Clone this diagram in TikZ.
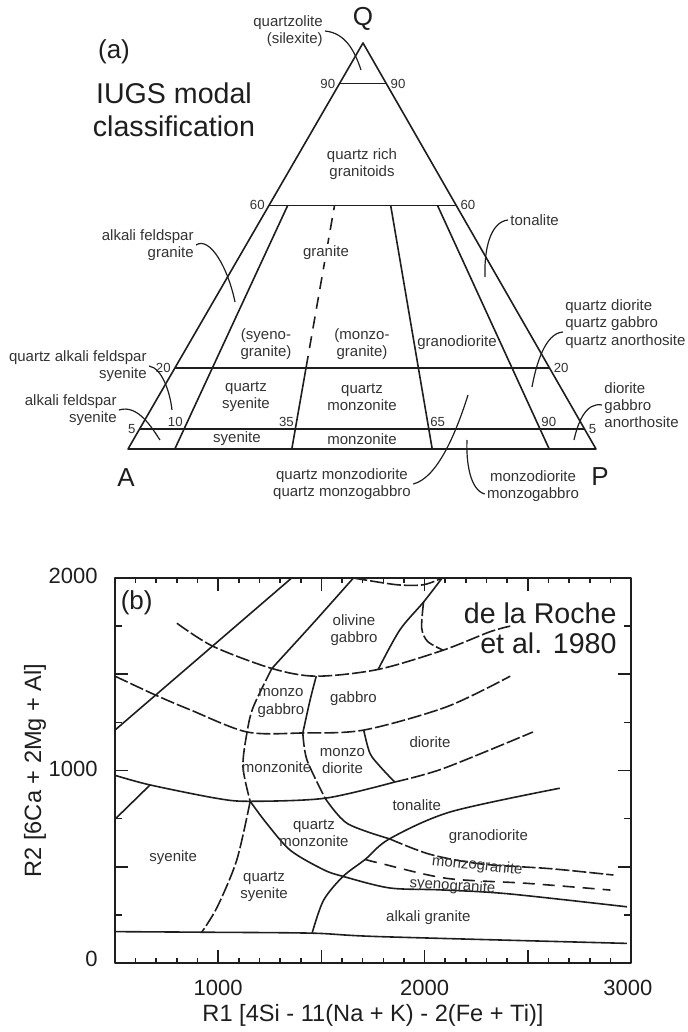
\documentclass[tikz,border=0pt]{standalone}
\usepackage{fontspec}
\setmainfont{Liberation Sans}
\usepackage{tikz}
\usepackage{xcolor}
\usetikzlibrary{positioning,calc}
\definecolor{RockInk}{HTML}{1E1E1E}
\definecolor{RockText}{HTML}{333333}
\tikzset{
    % Field boundary line
    fieldline/.style={
        draw=RockInk,
        line width=0.8pt,
        line join=round
    },
    % Dashed granite boundary in the triangle
    tridash/.style={
        fieldline,
        dash pattern=on 6pt off 4pt
    },
    % Long dashed boundary in the R1-R2 plot
    longdash/.style={
        fieldline,
        dash pattern=on 7pt off 1.5pt
    },
    % Monzogranite boundary
    mzdash/.style={
        fieldline,
        dash pattern=on 6pt off 4pt
    },
    % Curved leader from a name to its field
    leader/.style={
        draw=RockInk,
        line width=0.6pt
    },
    % Rock name
    fieldlabel/.style={
        text=RockText,
        inner sep=1pt,
        align=center,
        font=\fontsize{7.5}{8.6}\selectfont
    },
    % Percent value on the triangle
    pctlabel/.style={
        text=RockText,
        inner sep=2pt,
        font=\fontsize{6.6}{7.5}\selectfont
    },
    % Corner letters and panel tags
    cornerlabel/.style={
        text=RockInk,
        inner sep=0pt,
        font=\fontsize{13}{15}\selectfont
    },
    % Big titles
    titlelabel/.style={
        text=RockInk,
        inner sep=0pt,
        font=\fontsize{14.3}{16.5}\selectfont
    },
    % Axis numbers
    axisnum/.style={
        text=RockInk,
        inner sep=0pt,
        font=\fontsize{11}{13}\selectfont
    },
    % Axis titles
    axislabel/.style={
        text=RockInk,
        inner sep=0pt,
        font=\fontsize{11.8}{14}\selectfont
    }
}

\begin{document}
\begin{tikzpicture}[x=0.5pt, y=-0.5pt]
    \useasboundingbox (0,0) rectangle (688,1032);

    % (a) IUGS triangle
    \coordinate (Q) at (363,43);
    \coordinate (A) at (128,449);
    \coordinate (P) at (596,449);
    \draw[fieldline] (A) -- (Q) -- (P) -- cycle;

    % Q levels
    \coordinate (q90L) at ($(A)!0.90!(Q)$);
    \coordinate (q90R) at ($(P)!0.90!(Q)$);
    \coordinate (q60L) at ($(A)!0.60!(Q)$);
    \coordinate (q60R) at ($(P)!0.60!(Q)$);
    \coordinate (q20L) at ($(A)!0.20!(Q)$);
    \coordinate (q20R) at ($(P)!0.20!(Q)$);
    \coordinate (q05L) at ($(A)!0.05!(Q)$);
    \coordinate (q05R) at ($(P)!0.05!(Q)$);
    \draw[fieldline] (q90L) -- (q90R);
    \draw[fieldline] (q60L) -- (q60R);
    \draw[fieldline] (q20L) -- (q20R);
    \draw[fieldline] (q05L) -- (q05R);

    % P/(A+P) dividers
    \coordinate (p10) at ($(A)!0.10!(P)$);
    \coordinate (p35) at ($(A)!0.35!(P)$);
    \coordinate (p65) at ($(A)!0.65!(P)$);
    \coordinate (p90) at ($(A)!0.90!(P)$);
    \draw[fieldline] (p10) -- ($(p10)!0.6!(Q)$);
    \draw[fieldline] (p35) -- ($(p35)!0.2!(Q)$);
    \draw[tridash] ($(p35)!0.2!(Q)$) -- ($(p35)!0.6!(Q)$);
    \draw[fieldline] (p65) -- ($(p65)!0.6!(Q)$);
    \draw[fieldline] (p90) -- ($(p90)!0.6!(Q)$);

    % Percent values
    \node[pctlabel, anchor=east] (n90l) at (q90L) {90};
    \node[pctlabel, anchor=west] (n90r) at (q90R) {90};
    \node[pctlabel, anchor=east] (n60l) at (q60L) {60};
    \node[pctlabel, anchor=west] (n60r) at (q60R) {60};
    \node[pctlabel, anchor=east] (n20l) at (q20L) {20};
    \node[pctlabel, anchor=west] (n20r) at (q20R) {20};
    \node[pctlabel, anchor=east] (n05l) at (q05L) {5};
    \node[pctlabel, anchor=west] (n05r) at (q05R) {5};
    \node[pctlabel, anchor=south east, inner sep=0.6pt] (n10) at ($(p10)!0.05!(Q)$) {10};
    \node[pctlabel, anchor=south east, inner sep=0.6pt] (n35) at ($(p35)!0.05!(Q)$) {35};
    \node[pctlabel, anchor=south west, inner sep=0.6pt] (n65) at ($(p65)!0.05!(Q)$) {65};
    \node[pctlabel, anchor=south west, inner sep=0.6pt] (n90b) at ($(p90)!0.05!(Q)$) {90};

    % Corners and title
    \node[cornerlabel] (cQ) at (363,19) {Q};
    \node[cornerlabel] (cA) at (126,478) {A};
    \node[cornerlabel] (cP) at (600,477) {P};
    \node[cornerlabel] (tagA) at (114,52) {(a)};
    \node[titlelabel, align=center] (iugs) at (174,110) {IUGS modal\\classification};

    % Fields inside the triangle
    \node[fieldlabel] (qrich) at (362,164) {quartz rich\\granitoids};
    \node[fieldlabel, fill=white] (granite) at (326,253) {granite};
    \node[fieldlabel] (syenogr) at (266,344) {(syeno-\\granite)};
    \node[fieldlabel] (monzogr) at (362,344) {(monzo-\\granite)};
    \node[fieldlabel] (granodior) at (457,343) {granodiorite};
    \node[fieldlabel] (qsyen) at (246,397) {quartz\\syenite};
    \node[fieldlabel] (qmonz) at (362,397) {quartz\\monzonite};
    \node[fieldlabel] (syen) at (237,439) {syenite};
    \node[fieldlabel] (monz) at (362,439) {monzonite};

    % Names outside, with leaders
    \node[fieldlabel, align=right, anchor=east] (qzlite) at (325,31) {quartzolite\\(silexite)};
    \coordinate (tqzlite) at (361,70);
    \draw[leader] (qzlite.east) .. controls (346,33) and (355,52) .. (tqzlite);

    \node[fieldlabel, align=right, anchor=east] (afgran) at (196,245) {alkali feldspar\\granite};
    \coordinate (tafgran) at (235,302);
    \draw[leader] (afgran.east) .. controls (210,236) and (228,268) .. (tafgran);

    \node[fieldlabel, anchor=west] (tonal) at (508,220) {tonalite};
    \coordinate (ttonal) at (485,277);
    \draw[leader] (tonal.west) .. controls (490,222) and (484,250) .. (ttonal);

    \node[fieldlabel, align=left, anchor=west] (qdior) at (563,324) {quartz diorite\\quartz gabbro\\quartz anorthosite};
    \coordinate (tqdior) at (532,387);
    \draw[leader] ([yshift=-4pt]qdior.west) .. controls (545,333) and (536,365) .. (tqdior);

    \node[fieldlabel, align=left, anchor=west] (dior) at (602,405) {diorite\\gabbro\\anorthosite};
    \coordinate (tdior) at (574,440);
    \draw[leader] (dior.west) .. controls (586,402) and (578,422) .. (tdior);

    \node[fieldlabel, align=right, anchor=east] (qafsyen) at (149,366) {quartz alkali feldspar\\syenite};
    \coordinate (tqafsyen) at (172,410);
    \draw[leader] (qafsyen.east) .. controls (162,368) and (170,392) .. (tqafsyen);

    \node[fieldlabel, align=right, anchor=east] (afsyen) at (119,410) {alkali feldspar\\syenite};
    \coordinate (tafsyen) at (160,440);
    \draw[leader] (afsyen.east) .. controls (138,404) and (152,428) .. (tafsyen);

    \node[fieldlabel] (qmzdior) at (342,484) {quartz monzodiorite\\quartz monzogabbro};
    \coordinate (tqmzdior) at (468,395);
    \draw[leader] (qmzdior.east) .. controls (438,478) and (457,430) .. (tqmzdior);

    \node[fieldlabel] (mzdior) at (533,486) {monzodiorite\\monzogabbro};
    \coordinate (tmzdior) at (467,440);
    \draw[leader] ([yshift=-4pt]mzdior.west) .. controls (470,490) and (466,462) .. (tmzdior);

    % (b) de la Roche R1-R2 diagram
    \begin{scope}[shift={(11.8,963)}, x=0.1032pt, y=0.09625pt]
        \draw[fieldline] (500,0) rectangle (3000,2000);
        % ticks
        \foreach \rx in {600,700,...,2900} {
            \draw[fieldline] (\rx,0) -- ++(0,2.5pt);
            \draw[fieldline] (\rx,2000) -- ++(0,-2.5pt);
        }
        \foreach \rx in {1000,1500,2000,2500} {
            \draw[fieldline] (\rx,0) -- ++(0,6.5pt);
            \draw[fieldline] (\rx,2000) -- ++(0,-6.5pt);
        }
        \foreach \ry in {250,750,1250,1750} {
            \draw[fieldline] (500,\ry) -- ++(3.5pt,0);
            \draw[fieldline] (3000,\ry) -- ++(-3.5pt,0);
        }
        \foreach \ry in {500,1000,1500} {
            \draw[fieldline] (500,\ry) -- ++(6.5pt,0);
            \draw[fieldline] (3000,\ry) -- ++(-6.5pt,0);
        }

        % axis numbers and titles
        \node[axisnum, anchor=east] (y2000) at (418,2010) {2000};
        \node[axisnum, anchor=east] (y1000) at (418,1010) {1000};
        \node[axisnum, anchor=east] (y0) at (418,20) {0};
        \node[axisnum] (x1000) at (1000,-130) {1000};
        \node[axisnum] (x2000) at (2000,-130) {2000};
        \node[axisnum] (x3000) at (2985,-130) {3000};
        \node[axislabel] (xlab) at (1750,-270) {R1 [4Si - 11(Na + K) - 2(Fe + Ti)]};
        \node[axislabel, rotate=90] (ylab) at (112,1000) {R2 [6Ca + 2Mg + Al]};

        % junctions
        \coordinate (jAL) at (500,1210);
        \coordinate (jAT) at (1356,2000);
        \coordinate (jCleft) at (500,1490);
        \coordinate (jEleft) at (500,975);
        \coordinate (jSL) at (500,747);
        \coordinate (jSLE) at (670,925);
        \coordinate (jDtop) at (1655,2000);
        \coordinate (jFtop) at (2085,2000);
        \coordinate (jBD) at (1260,1530);
        \coordinate (jCD) at (1140,1200);
        \coordinate (jDE) at (1155,840);
        \coordinate (jBI) at (1475,1490);
        \coordinate (jCI) at (1410,1195);
        \coordinate (jEI) at (1518,856);
        \coordinate (jCL) at (1705,1210);
        \coordinate (jEL) at (1855,940);
        \coordinate (jBF) at (1775,1525);
        \coordinate (jFG) at (1995,1875);
        \coordinate (jBG) at (2090,1625);
        \coordinate (jNI) at (1830,645);
        \coordinate (jNJ) at (1605,450);
        \coordinate (jNmz) at (1712,538);
        \coordinate (jNO) at (1455,155);
        \coordinate (jSO) at (920,160);

        % boundaries
        \draw[fieldline] (jAL) -- (jAT);
        \draw[fieldline] (jSL) -- (jSLE);
        \draw[longdash] plot[smooth] coordinates {(800,1765) (975,1645) (jBD) (jBI) (jBF) (jBG) (2315,1720) (2415,1750)};
        \draw[longdash] plot[smooth] coordinates {(jCleft) (700,1390) (865,1315) (jCD) (jCI) (jCL) (2105,1330) (2415,1490)};
        \draw[fieldline] plot[smooth] coordinates {(jDtop) (1460,1765) (jBD)};
        \draw[longdash] plot[smooth] coordinates {(jBD) (1170,1330) (jCD) (1120,1020) (jDE)};
        \draw[longdash] plot[smooth] coordinates {(jDtop) (1865,1965) (1995,1965) (jFtop)};
        \draw[fieldline] plot[smooth] coordinates {(jFtop) (jFG) (1880,1730) (jBF)};
        \draw[longdash] plot[smooth] coordinates {(jFG) (1986,1740) (2015,1670) (jBG)};
        \draw[fieldline] plot[smooth] coordinates {(jBI) (1445,1365) (jCI)};
        \draw[longdash] plot[smooth] coordinates {(jCI) (1430,1055) (jEI)};
        \draw[fieldline] plot[smooth] coordinates {(jEI) (1625,725) (jNI)};
        \draw[longdash] plot[smooth] coordinates {(jNI) (2025,565) (2270,515) (2610,490) (2915,457)};
        \draw[fieldline] plot[smooth] coordinates {(jEleft) (jSLE) (995,855) (jDE) (jEI) (jEL)};
        \draw[longdash] plot[smooth] coordinates {(jEL) (2090,1010) (2525,1200)};
        \draw[fieldline] plot[smooth] coordinates {(jCL) (1735,1090) (1785,1020) (jEL)};
        \draw[longdash] plot[smooth] coordinates {(jDE) (1090,535) (995,290) (jSO)};
        \draw[fieldline] plot[smooth] coordinates {(jDE) (1235,725) (1350,585) (1510,485) (jNJ) (1830,390) (2075,380) (2400,360) (2980,292)};
        \draw[fieldline] plot[smooth] coordinates {(jNO) (1510,325) (jNJ) (jNmz) (jNI) (2125,785) (2655,908)};
        \draw[mzdash] plot[smooth] coordinates {(jNmz) (1785,518) (2105,440) (2495,414) (2900,379)};
        \draw[fieldline] plot[smooth] coordinates {(500,163) (jSO) (jNO) (1785,137) (2980,102)};

        % tag and source
        \node[cornerlabel] (tagB) at (605,1869) {(b)};
        \node[titlelabel, align=right, anchor=east, font=\fontsize{14.3}{15}\selectfont] (roche) at (2932,1740) {de la Roche\\et al. 1980};

        % fields
        \node[fieldlabel] (olgab) at (1658,1730) {olivine\\gabbro};
        \node[fieldlabel] (mzgab) at (1304,1351) {monzo\\gabbro};
        \node[fieldlabel] (gab) at (1655,1375) {gabbro};
        \node[fieldlabel] (mzonite) at (1283,1020) {monzonite};
        \node[fieldlabel] (mzdio) at (1602,1050) {monzo\\diorite};
        \node[fieldlabel] (dio) at (2026,1148) {diorite};
        \node[fieldlabel] (ton) at (1962,821) {tonalite};
        \node[fieldlabel] (qmzonite) at (1464,675) {quartz\\monzonite};
        \node[fieldlabel] (gdio) at (2309,655) {granodiorite};
        \node[fieldlabel, inner sep=0pt, rotate=-6] (mzgran) at (2255,504) {monzogranite};
        \node[fieldlabel, inner sep=0pt, rotate=-4] (sygran) at (2135,398) {syenogranite};
        \node[fieldlabel] (akgran) at (2018,237) {alkali granite};
        \node[fieldlabel] (syenb) at (782,547) {syenite};
        \node[fieldlabel] (qsyenb) at (1222,395) {quartz\\syenite};
    \end{scope}
\end{tikzpicture}
\end{document}
